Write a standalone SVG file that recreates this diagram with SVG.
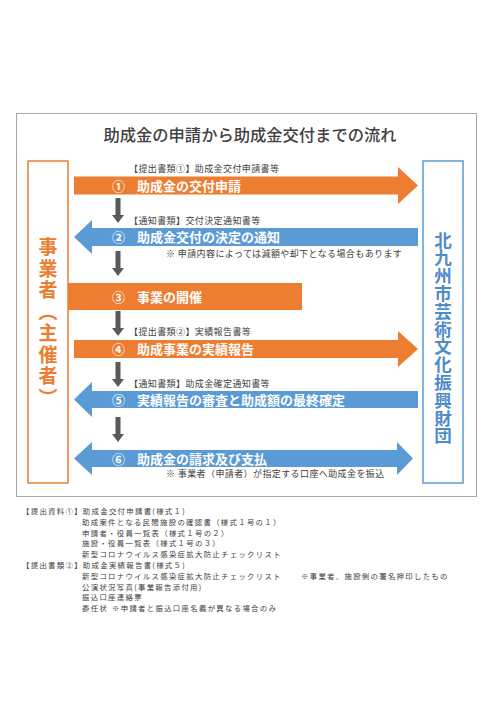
<svg xmlns="http://www.w3.org/2000/svg" width="490" height="708" viewBox="0 0 490 708">
<style>
text{font-family:"Noto Sans CJK JP","Noto Sans",sans-serif;}
.title{font-size:16.3px;font-weight:500;fill:#404040;}
.lbl{font-size:9px;fill:#404040;letter-spacing:0.4px;}
.w{font-size:13px;font-weight:700;fill:#ffffff;}
.orange{fill:#ED7D31;}
.blue{fill:#5B9BD5;}
.down{fill:#595959;}
.foot{font-size:7.4px;fill:#404040;letter-spacing:1.3px;}
.vl{font-size:19px;font-weight:700;fill:#ED7D31;writing-mode:vertical-rl;}
.vr{font-size:17.5px;font-weight:700;fill:#4F8AC9;writing-mode:vertical-rl;}
</style>
<defs>
<path id="dn" d="M-2.5,0 H2.5 V17 H6 L0,25 L-6,17 H-2.5 Z"/>
</defs>
<rect x="0" y="0" width="490" height="708" fill="#ffffff"/>
<rect id="frame" x="16.5" y="113.5" width="460" height="383" fill="#ffffff" stroke="#a6a6a6" stroke-width="1"/>
<text class="title" x="250" y="141" text-anchor="middle">助成金の申請から助成金交付までの流れ</text>

<g id="applicant">
<rect x="28" y="161" width="40" height="322" fill="#ffffff" stroke="#ED7D31" stroke-width="1.5"/>
<text class="vl" x="48" y="323.5" text-anchor="middle" letter-spacing="2.5">事業者（主催者）</text>
</g>
<g id="foundation">
<rect x="423" y="161" width="40" height="322" fill="#ffffff" stroke="#5B9BD5" stroke-width="1.5"/>
<text class="vr" x="443" y="338" text-anchor="middle" letter-spacing="0.3">北九州市芸術文化振興財団</text>
</g>

<g id="connectors">
<path class="orange" d="M74,176.5 H398 V167 L418,185.5 L398,204 V194.5 H74 Z"/>
<path class="blue" d="M418,228 H92 V220 L74,237 L92,254 V246 H418 Z"/>
<rect class="orange" x="68" y="283" width="234" height="27"/>
<path class="orange" d="M74,340 H398 V331 L418,349 L398,367 V358 H74 Z"/>
<path class="blue" d="M418,391 H92 V382 L74,399.5 L92,417 V408 H418 Z"/>
<path class="blue" d="M92,450 H397 V442 L413,458.5 L397,475 V467 H92 V475 L74,458.5 L92,442 Z"/>
<use href="#dn" class="down" x="118" y="198"/>
<use href="#dn" class="down" x="118" y="251"/>
<use href="#dn" class="down" x="118" y="311"/>
<use href="#dn" class="down" x="118" y="362"/>
<use href="#dn" class="down" x="118" y="417"/>
</g>

<g id="step1">
<text class="lbl" x="129" y="172.4">【提出書類①】助成金交付申請書等</text>
<text class="w" x="112" y="190.5">①</text>
<text class="w" x="137" y="190.5">助成金の交付申請</text>
</g>
<g id="step2">
<text class="lbl" x="129" y="224.4">【通知書類】交付決定通知書等</text>
<text class="w" x="112" y="242">②</text>
<text class="w" x="137" y="242">助成金交付の決定の通知</text>
<text class="lbl" x="166" y="256.6" letter-spacing="0.6">※ 申請内容によっては減額や却下となる場合もあります</text>
</g>
<g id="step3">
<text class="w" x="112" y="301.5">③</text>
<text class="w" x="137" y="301.5">事業の開催</text>
</g>
<g id="step4">
<text class="lbl" x="129" y="335.4">【提出書類②】実績報告書等</text>
<text class="w" x="112" y="354">④</text>
<text class="w" x="137" y="354">助成事業の実績報告</text>
</g>
<g id="step5">
<text class="lbl" x="129" y="387.4">【通知書類】助成金確定通知書等</text>
<text class="w" x="112" y="404.5">⑤</text>
<text class="w" x="137" y="404.5">実績報告の審査と助成額の最終確定</text>
</g>
<g id="step6">
<text class="w" x="112" y="463.5">⑥</text>
<text class="w" x="137" y="463.5">助成金の請求及び支払</text>
<text class="lbl" x="166" y="476.6" letter-spacing="0.6">※ 事業者（申請者）が指定する口座へ助成金を振込</text>
</g>

<g id="footnotes">
<text class="foot" x="22" y="514">【提出資料①】助成金交付申請書(様式１)</text>
<text class="foot" x="82" y="524.8">助成案件となる民間施設の確認書（様式１号の１）</text>
<text class="foot" x="82" y="535.6">申請者・役員一覧表（様式１号の２）</text>
<text class="foot" x="82" y="546.4">施設・役員一覧表（様式１号の３）</text>
<text class="foot" x="82" y="557.2">新型コロナウイルス感染症拡大防止チェックリスト</text>
<text class="foot" x="22" y="568">【提出書類②】助成金実績報告書(様式５)</text>
<text class="foot" x="82" y="578.8">新型コロナウイルス感染症拡大防止チェックリスト<tspan x="301">※事業者、施設側の署名押印したもの</tspan></text>
<text class="foot" x="82" y="589.6">公演状況写真(事業報告添付用)</text>
<text class="foot" x="82" y="600.4">振込口座連絡票</text>
<text class="foot" x="82" y="611.2">委任状 <tspan dx="1">※申請者と振込口座名義が異なる場合のみ</tspan></text>
</g>
</svg>
